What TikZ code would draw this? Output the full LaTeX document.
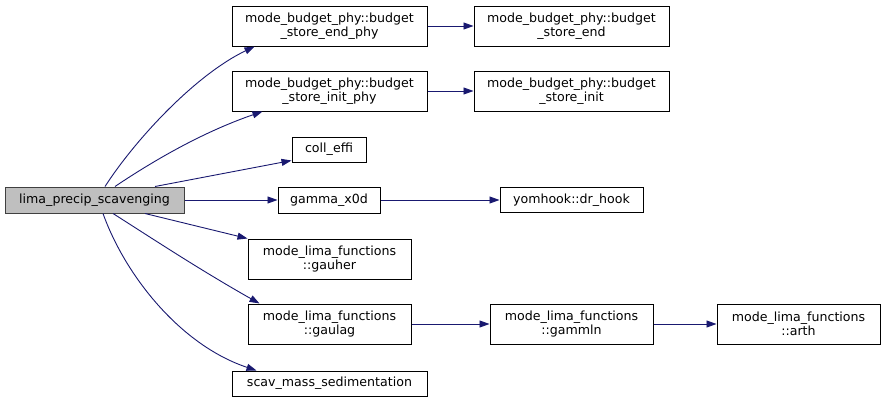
\documentclass[tikz,border=0pt]{standalone}
\usepackage{fontspec}
\setmainfont{DejaVu Sans}
\usetikzlibrary{arrows.meta}
\definecolor{edgeblue}{HTML}{191970}
\definecolor{rootgray}{HTML}{BFBFBF}
\begin{document}
\begin{tikzpicture}[x=1pt,y=-1pt,
    fn/.style={draw=black,line width=1pt,fill=white,inner sep=0pt,align=center,
               font=\fontsize{12.6}{14.5}\selectfont},
    call/.style={draw=edgeblue,line width=0.9pt,-{Triangle[length=10pt,width=7pt]}}]
        \useasboundingbox (0,0) rectangle (885,402);
        % caller
        \node[fn,fill=rootgray,draw=black!75,minimum width=179pt,minimum height=26pt] (root) at (94.5,200) {lima\_precip\_scavenging};

        % called routines
        \node[fn,minimum width=195pt,minimum height=40pt] (endphy) at (329.5,26) {mode\_budget\_phy::budget\\\_store\_end\_phy};
        \node[fn,minimum width=195pt,minimum height=40pt] (initphy) at (329.5,91) {mode\_budget\_phy::budget\\\_store\_init\_phy};
        \node[fn,minimum width=74pt,minimum height=25pt] (coll) at (329,149.5) {coll\_effi};
        \node[fn,minimum width=102pt,minimum height=26pt] (gamma) at (329,200) {gamma\_x0d};
        \node[fn,minimum width=163pt,minimum height=40pt] (gauher) at (329.5,259) {mode\_lima\_functions\\::gauher};
        \node[fn,minimum width=163pt,minimum height=40pt] (gaulag) at (329.5,324) {mode\_lima\_functions\\::gaulag};
        \node[fn,minimum width=195pt,minimum height=25pt] (scav) at (329.5,383.5) {scav\_mass\_sedimentation};

        \node[fn,minimum width=195pt,minimum height=40pt] (storeend) at (571.5,26) {mode\_budget\_phy::budget\\\_store\_end};
        \node[fn,minimum width=195pt,minimum height=40pt] (storeinit) at (571.5,91) {mode\_budget\_phy::budget\\\_store\_init};
        \node[fn,minimum width=143pt,minimum height=25pt] (drhook) at (571.5,200) {yomhook::dr\_hook};
        \node[fn,minimum width=163pt,minimum height=40pt] (gammln) at (571.5,324) {mode\_lima\_functions\\::gammln};
        \node[fn,minimum width=163pt,minimum height=40pt] (arth) at (798.5,324) {mode\_lima\_functions\\::arth};

        % calls from the caller
        \draw[call] ([xshift=10.5pt]root.north) .. controls (135,140) and (195,75) .. ([xshift=23pt]endphy.south west);
        \draw[call] ([xshift=20.5pt]root.north) .. controls (150,163) and (200,133) .. ([xshift=31pt]initphy.south west);
        \draw[call] ([xshift=60.5pt]root.north) -- ([yshift=2pt]coll.south west);
        \draw[call] (root.east) -- (gamma.west);
        \draw[call] ([xshift=50.5pt]root.south) -- (gauher.north west);
        \draw[call] ([xshift=18.5pt]root.south) .. controls (150,237) and (200,270) .. ([xshift=12pt]gaulag.north west);
        \draw[call] ([xshift=8.5pt]root.south) .. controls (125,275) and (180,345) .. ([xshift=25pt]scav.north west);

        % further calls
        \foreach \a/\b in {endphy/storeend,initphy/storeinit,gamma/drhook,gaulag/gammln,gammln/arth}
            {\draw[call] (\a.east) -- (\b.west);}
    \end{tikzpicture}
\end{document}
